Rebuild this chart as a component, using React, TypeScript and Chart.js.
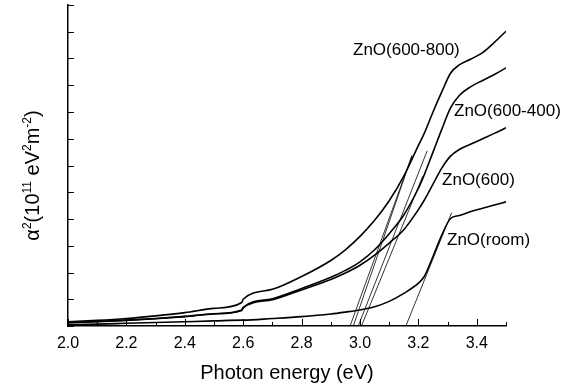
import React, { useEffect, useRef } from 'react';
import { Chart, registerables } from 'chart.js';

Chart.register(...registerables);

const FONT = '"Liberation Sans", Arial, sans-serif';

// Photon energy (eV) sample positions shared by the measured curves
const energy = [2.0, 2.1, 2.2, 2.3, 2.4, 2.5, 2.595, 2.6, 2.7, 2.8, 2.9, 2.95, 3.0, 3.05, 3.1, 3.15, 3.2, 3.22, 3.25, 3.28, 3.31, 3.34, 3.38, 3.42, 3.46, 3.5];

// alpha^2 (10^11 eV^2 m^-2)
const zno600800 = [0.16, 0.21, 0.28, 0.38, 0.5, 0.66, 0.88, 1.0, 1.37, 1.85, 2.45, 2.85, 3.35, 3.95, 4.68, 5.6, 6.75, 7.2, 8.0, 8.75, 9.45, 9.76, 9.98, 10.22, 10.6, 11.02];
const zno600400 = [0.13, 0.17, 0.22, 0.28, 0.36, 0.46, 0.6, 0.7, 1.02, 1.4, 1.82, 2.08, 2.4, 2.85, 3.45, 4.15, 5.15, 5.65, 6.5, 7.35, 8.15, 8.62, 8.95, 9.18, 9.4, 9.65];
const zno600 = [0.12, 0.16, 0.21, 0.27, 0.35, 0.45, 0.58, 0.68, 0.98, 1.35, 1.74, 1.98, 2.27, 2.65, 3.1, 3.6, 4.35, 4.7, 5.3, 5.9, 6.35, 6.6, 6.8, 7.0, 7.2, 7.41];
const znoRoom = [0.05, 0.07, 0.1, 0.13, 0.16, 0.19, 0.22, 0.22, 0.28, 0.35, 0.45, 0.52, 0.6, 0.72, 0.92, 1.22, 1.6, 1.85, 2.6, 3.4, 4.02, 4.13, 4.28, 4.4, 4.52, 4.64];

// Linear extrapolation lines (band-gap fits): start on the energy axis, end on the curve
const fitStartX = [2.966, 2.977, 2.994, 3.005, 3.157];
const fitStartY = [0, 0, 0, 0, 0];
const fitEndX = [3.178, 3.178, 3.23, 3.215, 3.314];
const fitEndY = [6.37, 6.37, 6.55, 5.6, 4.24];

const seriesNames = ['ZnO(600-800)', 'ZnO(600-400)', 'ZnO(600)', 'ZnO(room)'];
const seriesValues = [zno600800, zno600400, zno600, znoRoom];
// label anchors in data coordinates (energy, alpha^2)
const labelEnergy = [2.976, 3.322, 3.281, 3.298];
const labelAlpha = [10.29, 8.01, 5.43, 3.22];

const yTitleParts: [string, boolean][] = [
  ['α', false], ['2', true], ['(10', false], ['11', true], [' eV', false], ['2', true], ['m', false], ['-2', true], [')', false],
];

const overlay = {
  id: 'overlay',
  afterDraw(chart: any) {
    const ctx = chart.ctx as CanvasRenderingContext2D;
    const xs = chart.scales.x;
    const ys = chart.scales.y;
    const ca = chart.chartArea;
    ctx.save();
    ctx.strokeStyle = '#000';
    ctx.lineWidth = 1;
    // inside tick marks on x axis
    xs.ticks.forEach((t: any) => {
      const px = Math.round(xs.getPixelForValue(t.value)) + 0.5;
      const major = Math.round(t.value * 10) % 2 === 0;
      const len = major ? 7 : 4;
      ctx.beginPath();
      ctx.moveTo(px, ca.bottom);
      ctx.lineTo(px, ca.bottom - len);
      ctx.stroke();
    });
    // inside tick marks on y axis
    ys.ticks.forEach((t: any) => {
      const py = Math.round(ys.getPixelForValue(t.value)) + 0.5;
      ctx.beginPath();
      ctx.moveTo(ca.left, py);
      ctx.lineTo(ca.left + 6, py);
      ctx.stroke();
    });
    // curve labels
    ctx.fillStyle = '#000';
    ctx.font = `17px ${FONT}`;
    ctx.textAlign = 'left';
    ctx.textBaseline = 'middle';
    seriesNames.forEach((name, i) => {
      ctx.fillText(name, xs.getPixelForValue(labelEnergy[i]), ys.getPixelForValue(labelAlpha[i]));
    });
    // y title with superscripts
    const mainFont = `20px ${FONT}`;
    const supFont = `12px ${FONT}`;
    let total = 0;
    yTitleParts.forEach(([t, sup]) => {
      ctx.font = sup ? supFont : mainFont;
      total += ctx.measureText(t).width;
    });
    ctx.translate(32, (ca.top + ca.bottom) / 2 + 10);
    ctx.rotate(-Math.PI / 2);
    let x = -total / 2;
    ctx.textBaseline = 'alphabetic';
    yTitleParts.forEach(([t, sup]) => {
      ctx.font = sup ? supFont : mainFont;
      ctx.fillText(t, x, sup ? -1 : 7);
      x += ctx.measureText(t).width;
    });
    ctx.restore();
  },
};

export default function App() {
  const ref = useRef<HTMLCanvasElement>(null);
  useEffect(() => {
    if (!ref.current) return;
    const curveSets = seriesValues.map((vals, i) => ({
      label: seriesNames[i],
      data: energy.map((e, k) => ({ x: e, y: vals[k] })),
      borderColor: '#000',
      borderWidth: 1.6,
      pointRadius: 0,
      cubicInterpolationMode: 'monotone' as const,
      fill: false,
    }));
    const fitSets = fitStartX.map((sx, i) => ({
      label: 'fit' + i,
      data: [{ x: sx, y: fitStartY[i] }, { x: fitEndX[i], y: fitEndY[i] }],
      borderColor: '#000',
      borderWidth: 0.8,
      pointRadius: 0,
      fill: false,
    }));
    const chart = new Chart(ref.current, {
      type: 'line',
      data: { datasets: [...curveSets, ...fitSets] as any },
      options: {
        animation: false,
        responsive: false,
        maintainAspectRatio: false,
        layout: { padding: { left: 0, right: 65, top: 5, bottom: 0 } },
        plugins: { legend: { display: false }, tooltip: { enabled: false } },
        scales: {
          x: {
            type: 'linear',
            min: 2.0,
            max: 3.5,
            grid: { display: false },
            border: { display: true, color: '#000', width: 1.5 },
            ticks: {
              stepSize: 0.1,
              autoSkip: false,
              maxRotation: 0,
              color: '#000',
              padding: 0,
              font: { size: 16, family: FONT },
              callback: (v: any) => (Math.round(Number(v) * 10) % 2 === 0 ? Number(v).toFixed(1) : ''),
            },
            title: {
              display: true,
              text: 'Photon energy (eV)',
              color: '#000',
              font: { size: 20, family: FONT },
              padding: { top: 0, bottom: 2 },
            },
            afterFit: (s: any) => { s.height = 61; },
          },
          y: {
            type: 'linear',
            min: 0,
            max: 12,
            grid: { display: false },
            border: { display: true, color: '#000', width: 1.5 },
            ticks: { display: false, stepSize: 1 },
            afterFit: (s: any) => { s.width = 68; },
          },
        },
      },
      plugins: [overlay],
    });
    return () => chart.destroy();
  }, []);
  return (
    <div style={{ position: 'fixed', left: 0, top: 0, width: 571, height: 387, background: '#fff' }}>
      <canvas ref={ref} width={571} height={387} style={{ width: 571, height: 387, display: 'block' }} />
    </div>
  );
}
